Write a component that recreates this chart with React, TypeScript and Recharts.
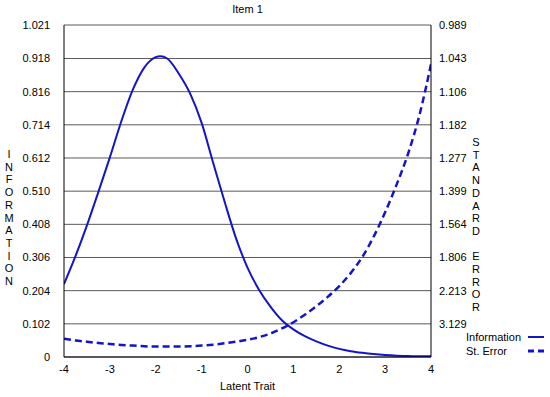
import { ComposedChart, Line, XAxis, YAxis, CartesianGrid } from "recharts";

// latent trait grid
const theta = [
  -4, -3.75, -3.5, -3.25, -3, -2.75, -2.5, -2.25, -2, -1.9, -1.75, -1.5, -1.25, -1,
  -0.75, -0.5, -0.25, 0, 0.25, 0.5, 0.75, 1, 1.25, 1.5, 1.75, 2, 2.25, 2.5, 2.75,
  3, 3.25, 3.5, 3.75, 4,
];

const information = [
  0.224, 0.31, 0.405, 0.508, 0.614, 0.725, 0.822, 0.89, 0.922, 0.925, 0.918, 0.872, 0.81,
  0.72, 0.598, 0.478, 0.365, 0.275, 0.207, 0.155, 0.113, 0.085, 0.064, 0.048, 0.035,
  0.025, 0.018, 0.013, 0.009, 0.006, 0.004, 0.003, 0.002, 0.002,
];

// st. error, in the plot's own height units
const stError = [
  0.056, 0.051, 0.047, 0.043, 0.04, 0.037, 0.035, 0.033, 0.032, 0.032, 0.032, 0.032,
  0.033, 0.035, 0.038, 0.042, 0.047, 0.053, 0.061, 0.072, 0.088, 0.107, 0.13, 0.156,
  0.185, 0.218, 0.258, 0.307, 0.37, 0.445, 0.53, 0.625, 0.745, 0.9,
];

const yTicks = [0, 0.102, 0.204, 0.306, 0.408, 0.51, 0.612, 0.714, 0.816, 0.918, 1.021];
const leftLabels = ["0", "0.102", "0.204", "0.306", "0.408", "0.510", "0.612", "0.714", "0.816", "0.918", "1.021"];
const rightLabels = ["", "3.129", "2.213", "1.806", "1.564", "1.399", "1.277", "1.182", "1.106", "1.043", "0.989"];
const xTicks = [-4, -3, -2, -1, 0, 1, 2, 3, 4];

const data = theta.map((t, i) => ({ t, info: information[i], se: stError[i] }));

const BLUE = "#1414c8";
const FONT = "'Liberation Sans', Arial, sans-serif";
const tickStyle = { fontSize: 11, fill: "#000", fontFamily: FONT };

function Stacked({ text, left, top }: { text: string; left: number; top: number }) {
  return (
    <div
      style={{
        position: "absolute",
        left,
        top,
        width: 14,
        textAlign: "center",
        fontSize: 11,
        lineHeight: "12.7px",
        fontFamily: FONT,
        whiteSpace: "pre",
      }}
    >
      {text.split("").join("\n")}
    </div>
  );
}

export default function App() {
  return (
    <div style={{ position: "absolute", left: 0, top: 0, width: 550, height: 397, background: "#fff" }}>
      <ComposedChart width={550} height={397} data={data} margin={{ top: 25, right: 0, bottom: 0, left: 0 }}>
        <CartesianGrid yAxisId="left" horizontal vertical={false} stroke="#5a5a5a" />
        <XAxis
          dataKey="t"
          type="number"
          domain={[-4, 4]}
          ticks={xTicks}
          height={40}
          tick={tickStyle}
          tickLine={false}
          axisLine={{ stroke: "#000" }}
          allowDataOverflow
        />
        <YAxis
          yAxisId="left"
          type="number"
          domain={[0, 1.021]}
          ticks={yTicks}
          width={64}
          tick={tickStyle}
          tickLine={false}
          tickMargin={8}
          axisLine={{ stroke: "#000" }}
          tickFormatter={(v: number) => leftLabels[yTicks.indexOf(v)] ?? ""}
          allowDataOverflow
        />
        <YAxis
          yAxisId="right"
          orientation="right"
          type="number"
          domain={[0, 1.021]}
          ticks={yTicks}
          width={119}
          tick={{ ...tickStyle, textAnchor: "start" }}
          tickLine={false}
          axisLine={{ stroke: "#000" }}
          tickFormatter={(v: number) => rightLabels[yTicks.indexOf(v)] ?? ""}
          allowDataOverflow
        />
        <Line
          yAxisId="left"
          dataKey="info"
          type="monotone"
          stroke={BLUE}
          strokeWidth={2}
          dot={false}
          activeDot={false}
          isAnimationActive={false}
        />
        <Line
          yAxisId="right"
          dataKey="se"
          type="monotone"
          stroke={BLUE}
          strokeWidth={2.5}
          strokeDasharray="7 4"
          dot={false}
          activeDot={false}
          isAnimationActive={false}
        />
      </ComposedChart>

      <div style={{ position: "absolute", left: 0, width: 495, top: 3, textAlign: "center", fontSize: 11, fontFamily: FONT }}>
        Item 1
      </div>
      <div style={{ position: "absolute", left: 0, width: 495, top: 380, textAlign: "center", fontSize: 11, fontFamily: FONT }}>
        Latent Trait
      </div>
      <Stacked text="INFORMATION" left={2} top={148} />
      <Stacked text="STANDARD ERROR" left={469} top={136} />

      <div style={{ position: "absolute", left: 466, top: 330, fontSize: 11, fontFamily: FONT, lineHeight: "14px" }}>
        <div style={{ display: "flex", alignItems: "center" }}>
          <span style={{ width: 62 }}>Information</span>
          <svg width={17} height={6}>
            <line x1={0} y1={3} x2={16} y2={3} stroke={BLUE} strokeWidth={2} />
          </svg>
        </div>
        <div style={{ display: "flex", alignItems: "center" }}>
          <span style={{ width: 62 }}>St. Error</span>
          <svg width={17} height={6}>
            <line x1={0} y1={3} x2={16} y2={3} stroke={BLUE} strokeWidth={3} strokeDasharray="6 4" />
          </svg>
        </div>
      </div>
    </div>
  );
}
